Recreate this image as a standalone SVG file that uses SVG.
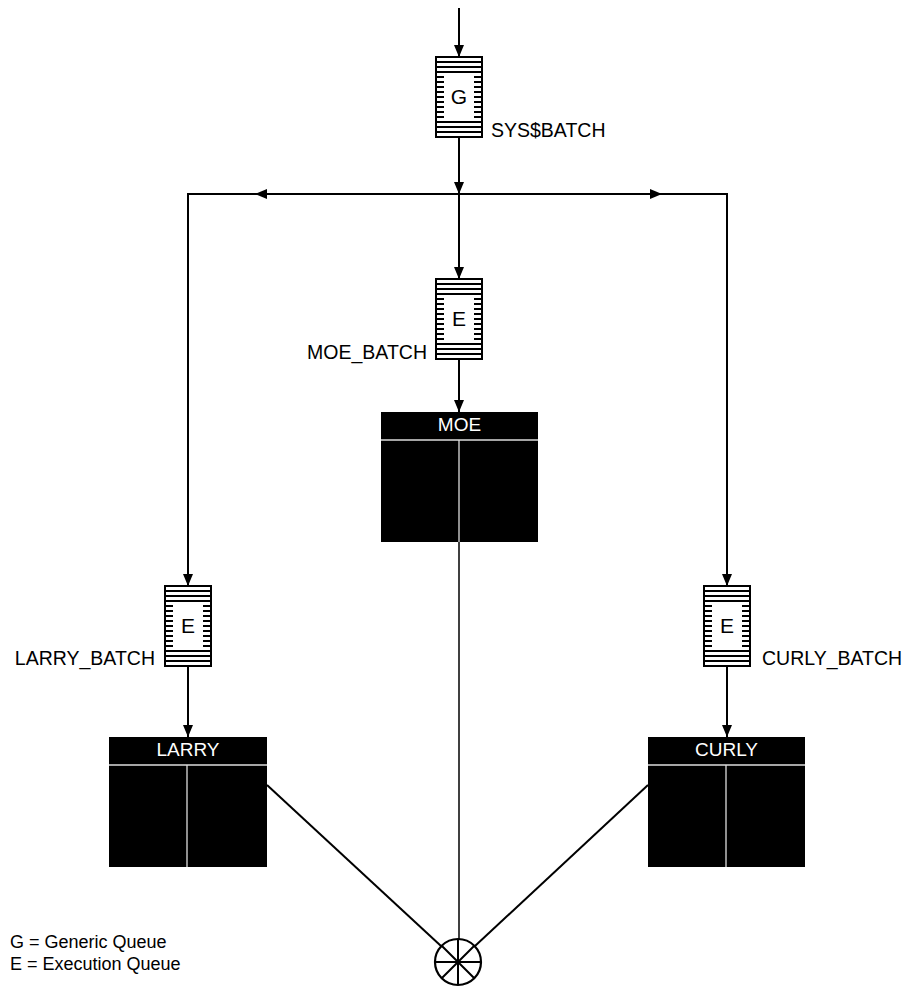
<svg xmlns="http://www.w3.org/2000/svg" width="911" height="987" viewBox="0 0 911 987">
<style>
.q{fill:#fff;stroke:#000;stroke-width:2}
.ql{stroke:#000;stroke-width:2}
.ql4{stroke:#000;stroke-width:2.2}
.qt{font-family:"Liberation Sans",Arial,sans-serif;font-size:21px;fill:#000;text-anchor:middle}
.lbl{font-family:"Liberation Sans",Arial,sans-serif;font-size:19.5px;fill:#000}
.box{fill:#000}
.bl{stroke:#ddd;stroke-width:1.3}
.bt{font-family:"Liberation Sans",Arial,sans-serif;font-size:19px;fill:#fff;text-anchor:middle}
.c{stroke:#000;stroke-width:2;fill:none}
.leg{font-family:"Liberation Sans",Arial,sans-serif;font-size:18px;fill:#000}
</style>
<defs>
<marker id="ah" markerUnits="userSpaceOnUse" markerWidth="12" markerHeight="12" viewBox="0 0 12 12" refX="12" refY="6" orient="auto">
<path d="M0,1 L12,6 L0,11 Z" fill="#000"/>
</marker>
<g id="queue">
<rect class="q" x="0" y="0" width="46" height="80"/>
<path class="ql" d="M0,5H46M0,10H46M0,15H46M0,65H46M0,70H46M0,75H46"/>
<path class="ql4" d="M0,20H8M0,25H8M0,30H8M0,35H8M0,40H8M0,45H8M0,50H8M0,55H8M0,60H8M38,20H46M38,25H46M38,30H46M38,35H46M38,40H46M38,45H46M38,50H46M38,55H46M38,60H46"/>
</g>
</defs>
<rect x="0" y="0" width="911" height="987" fill="#fff"/>

<g id="connectors">
<line class="c" x1="459" y1="8" x2="459" y2="57" marker-end="url(#ah)"/>
<line class="c" x1="459" y1="137" x2="459" y2="194" marker-end="url(#ah)"/>
<line class="c" x1="459" y1="194" x2="459" y2="279" marker-end="url(#ah)"/>
<polyline class="c" points="188,586 188,194 727,194 727,586"/>
<line class="c" x1="188" y1="560" x2="188" y2="586" marker-end="url(#ah)"/>
<line class="c" x1="727" y1="560" x2="727" y2="586" marker-end="url(#ah)"/>
<path d="M255,194 L267,189 L267,199 Z" fill="#000"/>
<path d="M662,194 L650,189 L650,199 Z" fill="#000"/>
<line class="c" x1="459" y1="359" x2="459" y2="412" marker-end="url(#ah)"/>
<line class="c" x1="188" y1="666" x2="188" y2="737" marker-end="url(#ah)"/>
<line class="c" x1="727" y1="666" x2="727" y2="737" marker-end="url(#ah)"/>
<line x1="459" y1="542" x2="459" y2="939" stroke="#000" stroke-width="1.5"/>
<line class="c" x1="267" y1="785" x2="441" y2="946"/>
<line class="c" x1="648" y1="785" x2="475" y2="946"/>
</g>

<g id="sysbatch">
<use href="#queue" x="436" y="57"/>
<text class="qt" x="459" y="104">G</text>
<text class="lbl" x="491" y="137">SYS$BATCH</text>
</g>

<g id="moe_batch">
<use href="#queue" x="436" y="279"/>
<text class="qt" x="459" y="326">E</text>
<text class="lbl" x="427" y="359" text-anchor="end">MOE_BATCH</text>
</g>

<g id="larry_batch">
<use href="#queue" x="165" y="586"/>
<text class="qt" x="188" y="633">E</text>
<text class="lbl" x="155" y="665" text-anchor="end">LARRY_BATCH</text>
</g>

<g id="curly_batch">
<use href="#queue" x="704" y="586"/>
<text class="qt" x="727" y="633">E</text>
<text class="lbl" x="762" y="665">CURLY_BATCH</text>
</g>

<g id="moe">
<rect class="box" x="381" y="412" width="157" height="130"/>
<line class="bl" x1="381" y1="440" x2="538" y2="440"/>
<line class="bl" x1="459" y1="440" x2="459" y2="542"/>
<text class="bt" x="459.5" y="431">MOE</text>
</g>

<g id="larry">
<rect class="box" x="109" y="737" width="158" height="130"/>
<line class="bl" x1="109" y1="765" x2="267" y2="765"/>
<line class="bl" x1="187" y1="765" x2="187" y2="867"/>
<text class="bt" x="188" y="756">LARRY</text>
</g>

<g id="curly">
<rect class="box" x="648" y="737" width="157" height="130"/>
<line class="bl" x1="648" y1="765" x2="805" y2="765"/>
<line class="bl" x1="726" y1="765" x2="726" y2="867"/>
<text class="bt" x="726.5" y="756">CURLY</text>
</g>

<g id="hub">
<circle cx="458" cy="962" r="23" fill="#fff" stroke="#000" stroke-width="2.2"/>
<path d="M435,962H481M458,939V985M441.7,945.7L474.3,978.3M474.3,945.7L441.7,978.3" stroke="#000" stroke-width="2"/>
</g>

<g id="legend">
<text class="leg" x="10" y="948">G = Generic Queue</text>
<text class="leg" x="10" y="970">E = Execution Queue</text>
</g>
</svg>
